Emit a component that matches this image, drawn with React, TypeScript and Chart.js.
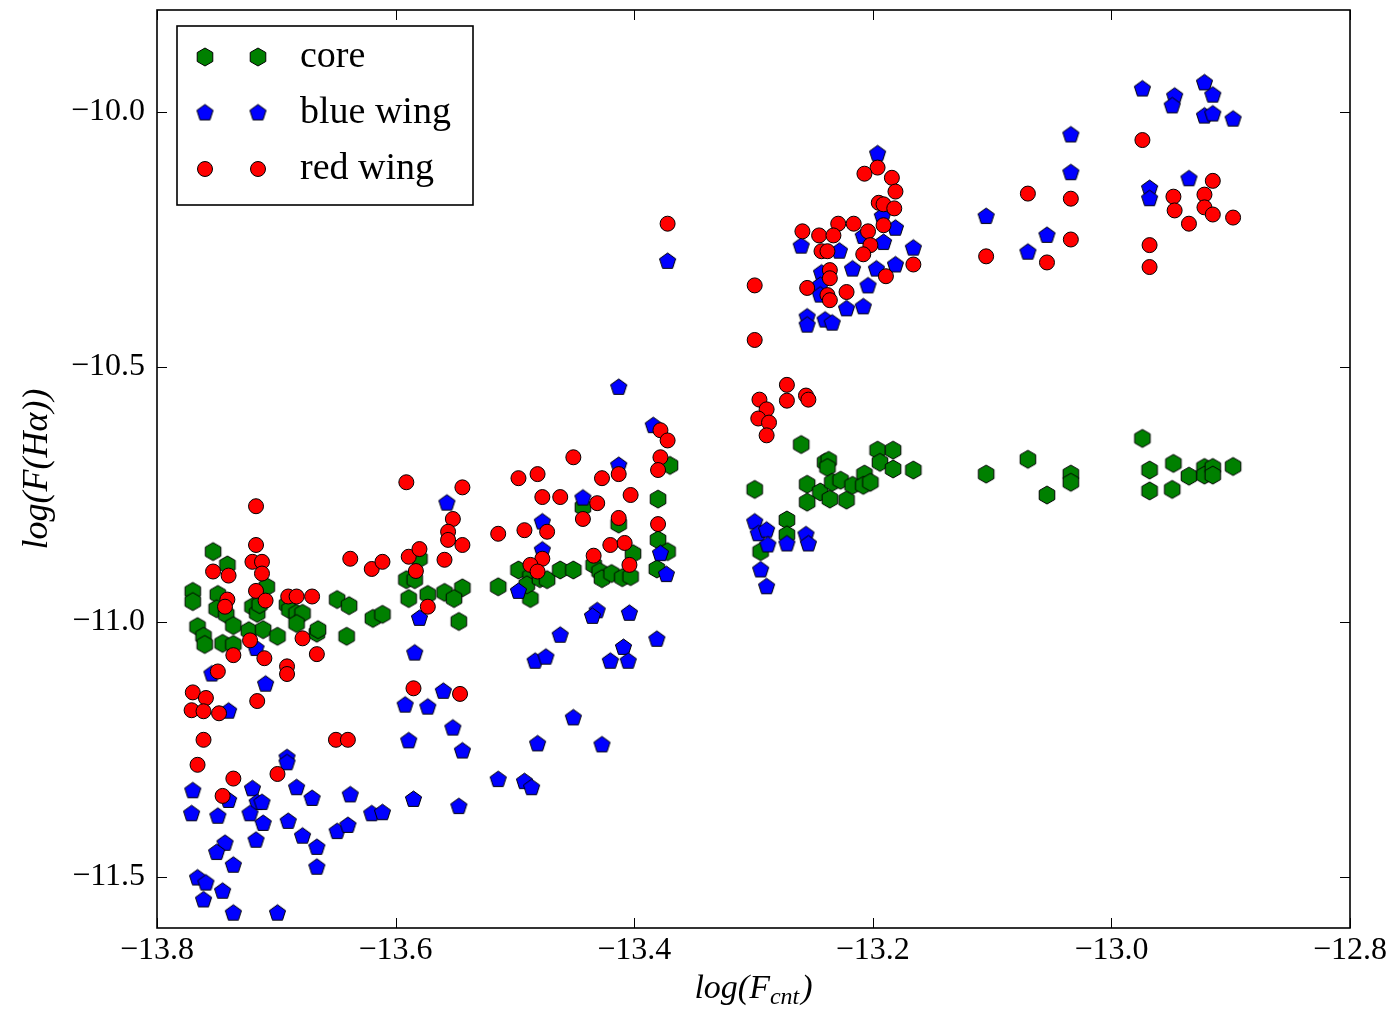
import React, { useEffect, useRef } from "react";
import { Chart, registerables } from "chart.js";

Chart.register(...registerables);

// ---- data (log F_cnt, log F(Halpha)) ----
const xTicks = [-13.8, -13.6, -13.4, -13.2, -13.0, -12.8];
const yTicks = [-10.0, -10.5, -11.0, -11.5];
const seriesNames = ["core", "blue wing", "red wing"];

const coreData: [number, number][] = [
  [-13.753, -10.862], [-13.741, -10.888], [-13.770, -10.940], [-13.770, -10.960],
  [-13.749, -10.946], [-13.750, -10.974], [-13.742, -10.985], [-13.736, -11.007],
  [-13.708, -10.931], [-13.720, -10.970], [-13.716, -10.983], [-13.714, -10.966],
  [-13.691, -10.966], [-13.689, -10.976], [-13.683, -10.983], [-13.678, -10.983],
  [-13.683, -11.003], [-13.766, -11.009], [-13.761, -11.028], [-13.760, -11.044],
  [-13.745, -11.042], [-13.736, -11.044], [-13.723, -11.017], [-13.711, -11.015],
  [-13.699, -11.028], [-13.666, -11.022], [-13.665, -11.015], [-13.649, -10.956],
  [-13.639, -10.968], [-13.619, -10.993], [-13.611, -10.985], [-13.641, -11.028],
  [-13.591, -10.917], [-13.580, -10.876], [-13.584, -10.917], [-13.589, -10.954],
  [-13.573, -10.946], [-13.559, -10.942], [-13.544, -10.933], [-13.551, -10.954],
  [-13.547, -10.999], [-13.370, -10.693], [-13.380, -10.759], [-13.514, -10.931],
  [-13.497, -10.898], [-13.487, -10.911], [-13.487, -10.954], [-13.490, -10.927],
  [-13.479, -10.915], [-13.473, -10.917], [-13.462, -10.898], [-13.451, -10.898],
  [-13.443, -10.775], [-13.413, -10.808], [-13.434, -10.888], [-13.429, -10.901],
  [-13.427, -10.915], [-13.419, -10.905], [-13.410, -10.913], [-13.403, -10.911],
  [-13.401, -10.866], [-13.380, -10.839], [-13.372, -10.862], [-13.381, -10.896],
  [-13.260, -10.652], [-13.299, -10.740], [-13.240, -10.687], [-13.237, -10.683],
  [-13.238, -10.697], [-13.255, -10.730], [-13.244, -10.745], [-13.255, -10.765],
  [-13.236, -10.759], [-13.222, -10.761], [-13.234, -10.726], [-13.227, -10.722],
  [-13.217, -10.732], [-13.207, -10.710], [-13.208, -10.732], [-13.202, -10.726],
  [-13.196, -10.663], [-13.183, -10.663], [-13.194, -10.687], [-13.183, -10.700],
  [-13.166, -10.702], [-13.272, -10.800], [-13.272, -10.829], [-13.294, -10.862],
  [-13.105, -10.710], [-13.070, -10.681], [-13.054, -10.751], [-13.034, -10.710],
  [-13.034, -10.726], [-12.974, -10.640], [-12.968, -10.702], [-12.968, -10.743],
  [-12.948, -10.689], [-12.949, -10.740], [-12.935, -10.714], [-12.922, -10.697],
  [-12.922, -10.712], [-12.915, -10.697], [-12.915, -10.712], [-12.898, -10.695],
];

const blueData: [number, number][] = [
  [-13.717, -11.052], [-13.754, -11.102], [-13.709, -11.122], [-13.740, -11.175],
  [-13.691, -11.266], [-13.691, -11.276], [-13.770, -11.331], [-13.740, -11.350],
  [-13.720, -11.327], [-13.716, -11.354], [-13.712, -11.354], [-13.722, -11.376],
  [-13.711, -11.395], [-13.771, -11.376], [-13.749, -11.381], [-13.683, -11.325],
  [-13.670, -11.346], [-13.690, -11.391], [-13.678, -11.420], [-13.666, -11.442],
  [-13.666, -11.481], [-13.717, -11.428], [-13.743, -11.434], [-13.750, -11.452],
  [-13.736, -11.477], [-13.766, -11.502], [-13.759, -11.512], [-13.745, -11.528],
  [-13.761, -11.545], [-13.736, -11.571], [-13.699, -11.571], [-13.592, -11.163],
  [-13.573, -11.167], [-13.552, -11.208], [-13.589, -11.233], [-13.544, -11.253],
  [-13.638, -11.339], [-13.620, -11.376], [-13.611, -11.374], [-13.585, -11.348],
  [-13.547, -11.362], [-13.649, -11.411], [-13.640, -11.399], [-13.557, -10.767],
  [-13.580, -10.993], [-13.584, -11.061], [-13.560, -11.136], [-13.413, -10.540],
  [-13.384, -10.615], [-13.413, -10.693], [-13.443, -10.757], [-13.477, -10.804],
  [-13.477, -10.859], [-13.497, -10.940], [-13.378, -10.866], [-13.373, -10.907],
  [-13.431, -10.978], [-13.435, -10.989], [-13.404, -10.983], [-13.462, -11.026],
  [-13.381, -11.034], [-13.409, -11.050], [-13.483, -11.077], [-13.474, -11.069],
  [-13.420, -11.077], [-13.405, -11.077], [-13.451, -11.188], [-13.481, -11.239],
  [-13.427, -11.241], [-13.514, -11.309], [-13.492, -11.313], [-13.486, -11.325],
  [-13.372, -10.293], [-13.196, -10.082], [-13.192, -10.205], [-13.181, -10.228],
  [-13.191, -10.256], [-13.208, -10.244], [-13.260, -10.263], [-13.228, -10.273],
  [-13.217, -10.308], [-13.197, -10.308], [-13.181, -10.300], [-13.166, -10.267],
  [-13.204, -10.341], [-13.243, -10.316], [-13.244, -10.340], [-13.244, -10.359],
  [-13.222, -10.386], [-13.208, -10.382], [-13.255, -10.402], [-13.255, -10.418],
  [-13.240, -10.408], [-13.234, -10.414], [-13.299, -10.804], [-13.296, -10.827],
  [-13.289, -10.820], [-13.288, -10.849], [-13.272, -10.847], [-13.256, -10.829],
  [-13.254, -10.847], [-13.294, -10.898], [-13.289, -10.931], [-12.974, -9.955],
  [-12.947, -9.969], [-12.949, -9.988], [-12.922, -9.943], [-12.915, -9.967],
  [-12.922, -10.008], [-12.915, -10.004], [-12.898, -10.014], [-13.034, -10.045],
  [-13.034, -10.119], [-13.105, -10.205], [-13.054, -10.242], [-13.070, -10.275],
  [-12.968, -10.150], [-12.968, -10.170], [-12.935, -10.131],
];

const redData: [number, number][] = [
  [-13.717, -10.773], [-13.717, -10.849], [-13.720, -10.882], [-13.712, -10.882],
  [-13.712, -10.905], [-13.753, -10.901], [-13.740, -10.909], [-13.717, -10.939],
  [-13.709, -10.958], [-13.741, -10.956], [-13.743, -10.970], [-13.690, -10.950],
  [-13.683, -10.950], [-13.670, -10.950], [-13.678, -11.032], [-13.722, -11.036],
  [-13.736, -11.065], [-13.710, -11.071], [-13.666, -11.063], [-13.691, -11.087],
  [-13.691, -11.102], [-13.749, -11.097], [-13.716, -11.155], [-13.770, -11.138],
  [-13.759, -11.149], [-13.771, -11.173], [-13.761, -11.175], [-13.748, -11.179],
  [-13.761, -11.231], [-13.766, -11.280], [-13.736, -11.307], [-13.699, -11.298],
  [-13.745, -11.341], [-13.591, -10.726], [-13.544, -10.736], [-13.552, -10.798],
  [-13.556, -10.823], [-13.556, -10.839], [-13.544, -10.849], [-13.638, -10.876],
  [-13.620, -10.896], [-13.611, -10.882], [-13.589, -10.872], [-13.580, -10.857],
  [-13.583, -10.900], [-13.559, -10.878], [-13.573, -10.970], [-13.585, -11.130],
  [-13.546, -11.141], [-13.650, -11.231], [-13.640, -11.231], [-13.378, -10.624],
  [-13.372, -10.644], [-13.378, -10.677], [-13.380, -10.702], [-13.451, -10.677],
  [-13.497, -10.718], [-13.481, -10.710], [-13.427, -10.718], [-13.413, -10.710],
  [-13.477, -10.755], [-13.462, -10.755], [-13.431, -10.767], [-13.403, -10.751],
  [-13.443, -10.798], [-13.413, -10.796], [-13.380, -10.808], [-13.514, -10.827],
  [-13.492, -10.820], [-13.473, -10.823], [-13.420, -10.849], [-13.408, -10.845],
  [-13.477, -10.876], [-13.487, -10.888], [-13.481, -10.901], [-13.434, -10.870],
  [-13.404, -10.888], [-13.372, -10.219], [-13.196, -10.109], [-13.207, -10.121],
  [-13.184, -10.129], [-13.181, -10.156], [-13.195, -10.178], [-13.191, -10.181],
  [-13.182, -10.189], [-13.191, -10.222], [-13.204, -10.234], [-13.229, -10.219],
  [-13.216, -10.219], [-13.259, -10.234], [-13.245, -10.242], [-13.233, -10.242],
  [-13.202, -10.261], [-13.208, -10.279], [-13.243, -10.273], [-13.238, -10.273],
  [-13.166, -10.299], [-13.189, -10.322], [-13.236, -10.310], [-13.236, -10.326],
  [-13.255, -10.345], [-13.222, -10.353], [-13.238, -10.359], [-13.236, -10.369],
  [-13.299, -10.340], [-13.299, -10.447], [-13.272, -10.535], [-13.295, -10.564],
  [-13.289, -10.583], [-13.272, -10.566], [-13.256, -10.556], [-13.254, -10.564],
  [-13.296, -10.601], [-13.287, -10.609], [-13.289, -10.634], [-12.974, -10.055],
  [-13.070, -10.160], [-13.034, -10.170], [-13.034, -10.250], [-13.105, -10.283],
  [-13.054, -10.295], [-12.968, -10.261], [-12.968, -10.304], [-12.948, -10.166],
  [-12.947, -10.193], [-12.915, -10.135], [-12.922, -10.162], [-12.922, -10.187],
  [-12.915, -10.201], [-12.935, -10.219], [-12.898, -10.207],
];

const SERIF = "'Liberation Serif', 'Times New Roman', serif";

function makeMarker(sides: number, fill: string, R: number): HTMLCanvasElement {
  const size = Math.ceil(2 * R + 4);
  const c = document.createElement("canvas");
  c.width = size;
  c.height = size;
  const ctx = c.getContext("2d")!;
  const cx = size / 2;
  const cy = size / 2;
  ctx.beginPath();
  for (let i = 0; i < sides; i++) {
    const a = -Math.PI / 2 + (i * 2 * Math.PI) / sides;
    const px = cx + R * Math.cos(a);
    const py = cy + R * Math.sin(a);
    if (i === 0) ctx.moveTo(px, py);
    else ctx.lineTo(px, py);
  }
  ctx.closePath();
  ctx.fillStyle = fill;
  ctx.fill();
  ctx.lineWidth = 1;
  ctx.strokeStyle = "#000";
  ctx.stroke();
  return c;
}

function fmt(v: number): string {
  return (v < 0 ? "\u2212" : "") + Math.abs(v).toFixed(1);
}

export default function App() {
  const ref = useRef<HTMLCanvasElement | null>(null);

  useEffect(() => {
    const canvas = ref.current;
    if (!canvas) return;
    const hex = makeMarker(6, "#008000", 9);
    const pent = makeMarker(5, "#0000ff", 8.5);

    const drawCircle = (ctx: CanvasRenderingContext2D, x: number, y: number) => {
      ctx.beginPath();
      ctx.arc(x, y, 7.5, 0, Math.PI * 2);
      ctx.fillStyle = "#ff0000";
      ctx.fill();
      ctx.lineWidth = 1;
      ctx.strokeStyle = "#000";
      ctx.stroke();
    };

    const decor = {
      id: "decor",
      afterDraw(chart: any) {
        const { ctx, chartArea: a, scales } = chart;
        ctx.save();
        // inward ticks on all four sides
        ctx.strokeStyle = "#000";
        ctx.lineWidth = 1;
        const tl = 10;
        const line = (x1: number, y1: number, x2: number, y2: number) => {
          ctx.beginPath();
          ctx.moveTo(x1, y1);
          ctx.lineTo(x2, y2);
          ctx.stroke();
        };
        scales.x.ticks.forEach((t: any) => {
          const px = Math.round(scales.x.getPixelForValue(t.value)) + 0.5;
          line(px, a.bottom, px, a.bottom - tl);
          line(px, a.top, px, a.top + tl);
        });
        scales.y.ticks.forEach((t: any) => {
          const py = Math.round(scales.y.getPixelForValue(t.value)) + 0.5;
          line(a.left, py, a.left + tl, py);
          line(a.right, py, a.right - tl, py);
        });
        // frame
        ctx.lineWidth = 1.6;
        ctx.strokeRect(a.left, a.top, a.right - a.left, a.bottom - a.top);

        // legend
        const lx = 177, ly = 26, lw = 296, lh = 179;
        ctx.fillStyle = "#fff";
        ctx.fillRect(lx, ly, lw, lh);
        ctx.lineWidth = 1.6;
        ctx.strokeStyle = "#000";
        ctx.strokeRect(lx, ly, lw, lh);
        const rows = [57, 113, 169];
        const markerXs = [205, 258];
        ctx.font = `38px ${SERIF}`;
        ctx.textBaseline = "alphabetic";
        ctx.textAlign = "left";
        rows.forEach((ry, i) => {
          markerXs.forEach((mx) => {
            if (i === 0) ctx.drawImage(hex, mx - hex.width / 2, ry - hex.height / 2);
            else if (i === 1) ctx.drawImage(pent, mx - pent.width / 2, ry - pent.height / 2);
            else drawCircle(ctx, mx, ry);
          });
          ctx.fillStyle = "#000";
          ctx.fillText(seriesNames[i], 300, ry + 10);
        });

        // x-axis title: log(F_cnt)
        ctx.fillStyle = "#000";
        const big = `italic 34px ${SERIF}`;
        const small = `italic 24px ${SERIF}`;
        ctx.font = big;
        const p1 = "log(F";
        const p3 = ")";
        const w1 = ctx.measureText(p1).width;
        const w3 = ctx.measureText(p3).width;
        ctx.font = small;
        const p2 = "cnt";
        const w2 = ctx.measureText(p2).width;
        const cxm = (a.left + a.right) / 2;
        let sx = cxm - (w1 + w2 + w3 + 2) / 2;
        const base = 998;
        ctx.font = big;
        ctx.fillText(p1, sx, base);
        sx += w1;
        ctx.font = small;
        ctx.fillText(p2, sx, base + 6);
        sx += w2 + 2;
        ctx.font = big;
        ctx.fillText(p3, sx, base);

        // y-axis title
        ctx.translate(47, (a.top + a.bottom) / 2);
        ctx.rotate(-Math.PI / 2);
        ctx.textAlign = "center";
        ctx.font = `italic 36px ${SERIF}`;
        ctx.fillText("log(F(H\u03b1))", 0, 0);
        ctx.restore();
      },
    };

    const chart = new Chart(canvas, {
      type: "scatter",
      data: {
        datasets: [
          {
            label: seriesNames[0],
            data: coreData.map(([x, y]) => ({ x, y })),
            pointStyle: hex as any,
            pointRadius: 9,
            order: 2,
          },
          {
            label: seriesNames[1],
            data: blueData.map(([x, y]) => ({ x, y })),
            pointStyle: pent as any,
            pointRadius: 9,
            order: 1,
          },
          {
            label: seriesNames[2],
            data: redData.map(([x, y]) => ({ x, y })),
            pointStyle: "circle",
            pointRadius: 7.5,
            backgroundColor: "#ff0000",
            borderColor: "#000000",
            borderWidth: 1,
            order: 0,
          },
        ],
      },
      options: {
        responsive: false,
        animation: false,
        devicePixelRatio: 1,
        events: [],
        layout: { padding: { top: 5, right: 43, bottom: 0, left: 0 } },
        plugins: {
          legend: { display: false },
          tooltip: { enabled: false },
          title: { display: false },
        },
        scales: {
          x: {
            type: "linear",
            min: -13.8,
            max: -12.8,
            grid: { display: false, drawTicks: false },
            border: { display: false },
            ticks: {
              padding: 3,
              color: "#000",
              font: { family: SERIF, size: 32 },
              maxRotation: 0,
              autoSkip: false,
              callback: (v: any) => fmt(Number(v)),
            },
            afterBuildTicks: (scale: any) => {
              scale.ticks = xTicks.map((v) => ({ value: v }));
            },
            afterFit: (scale: any) => {
              scale.height = 88;
              scale.paddingLeft = 0;
              scale.paddingRight = 0;
            },
          },
          y: {
            type: "linear",
            min: -11.6,
            max: -9.8,
            grid: { display: false, drawTicks: false },
            border: { display: false },
            ticks: {
              padding: 12,
              color: "#000",
              font: { family: SERIF, size: 32 },
              autoSkip: false,
              callback: (v: any) => fmt(Number(v)),
            },
            afterBuildTicks: (scale: any) => {
              scale.ticks = yTicks.map((v) => ({ value: v }));
            },
            afterFit: (scale: any) => {
              scale.width = 157;
              scale.paddingTop = 0;
              scale.paddingBottom = 0;
            },
          },
        },
      },
      plugins: [decor],
    });

    return () => chart.destroy();
  }, []);

  return (
    <div
      style={{
        position: "fixed",
        left: 0,
        top: 0,
        width: "1393px",
        height: "1016px",
        background: "#fff",
      }}
    >
      <canvas ref={ref} width={1393} height={1016} style={{ display: "block" }} />
    </div>
  );
}
